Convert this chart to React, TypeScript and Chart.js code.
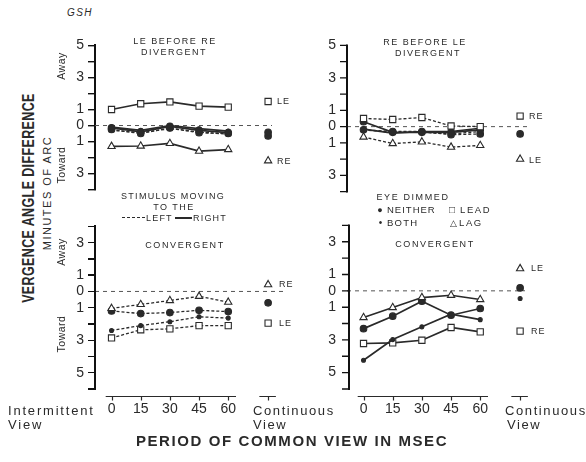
import React, { useEffect, useRef, useState } from 'react';
import { Chart, registerables } from 'chart.js';

Chart.register(...registerables);

const INK = '#2a2a2a';
const FONT = "'Liberation Sans', Arial, sans-serif";

// ---- shared x values ----
const PERIODS = [0, 15, 30, 45, 60];
const X_TICKS = [0, 15, 30, 45, 60];
const CONT_X = 80.5;
const X_MIN = -8.5;
const X_MAX = 91.5;

// ---- top-left: LE before RE, divergent ----
const tlLead = [1.0, 1.36, 1.47, 1.21, 1.15];
const tlLag = [-1.3, -1.28, -1.12, -1.6, -1.5];
const tlNeitherRight = [-0.15, -0.4, -0.05, -0.3, -0.45];
const tlNeitherLeft = [-0.25, -0.5, -0.15, -0.45, -0.5];
const tlBothRight = [-0.1, -0.3, 0.0, -0.2, -0.35];
const tlBothLeft = [-0.3, -0.45, -0.2, -0.4, -0.55];
const tlCont = { lead: 1.5, lag: -2.2, neither: -0.42, both: -0.65 };

// ---- top-right: RE before LE, divergent ----
const trLead = [0.5, 0.44, 0.56, 0.04, 0.0];
const trLag = [-0.64, -1.04, -0.94, -1.26, -1.16];
const trNeitherRight = [0.3, -0.35, -0.35, -0.35, -0.2];
const trNeitherLeft = [-0.2, -0.3, -0.3, -0.5, -0.45];
const trBothRight = [-0.15, -0.4, -0.3, -0.3, -0.1];
const trBothLeft = [-0.2, -0.35, -0.35, -0.45, -0.3];
const trCont = { lead: 0.65, lag: -2.0, neither: -0.45 };

// ---- bottom-left: stimulus moving, convergent ----
const blLag = [-1.04, -0.8, -0.56, -0.3, -0.66];
const blNeither = [-1.2, -1.36, -1.3, -1.16, -1.24];
const blBoth = [-2.4, -2.1, -1.86, -1.56, -1.64];
const blLead = [-2.86, -2.36, -2.3, -2.1, -2.1];
const blCont = { lag: 0.42, neither: -0.7, lead: -1.95 };

// ---- bottom-right: eye dimmed, convergent ----
const brLag = [-1.63, -1.02, -0.41, -0.27, -0.53];
const brNeither = [-2.31, -1.55, -0.63, -1.49, -1.08];
const brBoth = [-4.24, -2.98, -2.2, -1.43, -1.76];
const brLead = [-3.22, -3.18, -3.02, -2.24, -2.51];
const brCont = { lag: 1.36, neither: 0.18, both: -0.47, lead: -2.46 };

type Kind = 'lead' | 'lag' | 'neither' | 'both';
const MARK: Record<Kind, { style: string; r: number; fill: string }> = {
  lead: { style: 'rect', r: 4.4, fill: '#ffffff' },
  lag: { style: 'triangle', r: 4.2, fill: '#ffffff' },
  neither: { style: 'circle', r: 3.3, fill: INK },
  both: { style: 'circle', r: 2.0, fill: INK },
};

function lineDs(values: number[], kind: Kind, dashed: boolean) {
  const m = MARK[kind];
  return {
    data: PERIODS.map((x, i) => ({ x, y: values[i] })),
    borderColor: INK,
    borderWidth: dashed ? 1.3 : 1.7,
    borderDash: dashed ? [3, 2] : [],
    pointStyle: m.style,
    pointRadius: m.r,
    pointBackgroundColor: m.fill,
    pointBorderColor: INK,
    pointBorderWidth: 1.1,
    tension: 0,
    fill: false,
  };
}

function contDs(value: number, kind: Kind) {
  const m = MARK[kind];
  return {
    data: [{ x: CONT_X, y: value }],
    showLine: false,
    pointStyle: m.style,
    pointRadius: m.r,
    pointBackgroundColor: m.fill,
    pointBorderColor: INK,
    pointBorderWidth: 1.1,
  };
}

function zeroDs(end: number) {
  return {
    data: [{ x: X_MIN, y: 0 }, { x: end, y: 0 }],
    borderColor: '#555555',
    borderWidth: 1,
    borderDash: [4, 4],
    pointRadius: 0,
    fill: false,
  };
}

// Axis plugin: y axis line + ticks (at an optional shift), and the broken x axis
// of the bottom panels, positioned through the chart's own scales.
const axesPlugin = {
  id: 'axesPlugin',
  afterDraw(chart: any, _args: any, opts: any) {
    const { ctx, chartArea } = chart;
    const ys = chart.scales.y;
    const xs = chart.scales.x;
    ctx.save();
    ctx.setLineDash([]);
    ctx.strokeStyle = '#111111';
    if (opts && opts.yLine) {
      const ax = chartArea.left + (opts.shift || 0);
      ctx.lineWidth = 2;
      ctx.beginPath();
      ctx.moveTo(ax, ys.getPixelForValue(ys.max) - 1);
      ctx.lineTo(ax, ys.getPixelForValue(ys.min) + 1);
      ctx.stroke();
      ctx.lineWidth = 1.4;
      ctx.beginPath();
      for (const t of ys.ticks) {
        const py = ys.getPixelForValue(t.value);
        ctx.moveTo(ax - 7, py);
        ctx.lineTo(ax, py);
      }
      ctx.stroke();
    }
    if (opts && opts.segments) {
      const y = Math.round(chartArea.bottom + opts.offset) + 0.5;
      ctx.strokeStyle = INK;
      ctx.lineWidth = 1.2;
      ctx.beginPath();
      for (const [a, b] of opts.segments) {
        ctx.moveTo(xs.getPixelForValue(a), y);
        ctx.lineTo(xs.getPixelForValue(b), y);
      }
      for (const t of opts.ticks) {
        const px = Math.round(xs.getPixelForValue(t)) + 0.5;
        ctx.moveTo(px, y);
        ctx.lineTo(px, y + opts.tickLen);
      }
      ctx.stroke();
    }
    ctx.restore();
  },
};

type PanelSpec = {
  left: number;
  top: number;
  width: number;
  height: number;
  yMin: number;
  yMax: number;
  showX: boolean;
  native: boolean;
  pluginShift: number | null;
  html: boolean;
  datasets: any[];
};

type AxisGeom = { x: number; top: number; bottom: number; ticks: number[] };

function Panel({ spec }: { spec: PanelSpec }) {
  const ref = useRef<HTMLCanvasElement | null>(null);
  const [axis, setAxis] = useState<AxisGeom | null>(null);
  useEffect(() => {
    if (!ref.current) return;
    const xOpts: any = spec.showX
      ? { segments: [[-3, 64], [76, 84.5]], ticks: [...X_TICKS, CONT_X], offset: 7, tickLen: 4 }
      : {};
    if (spec.pluginShift !== null) {
      xOpts.yLine = true;
      xOpts.shift = spec.pluginShift;
    }
    const chart = new Chart(ref.current, {
      type: 'line',
      data: { datasets: spec.datasets },
      options: {
        animation: false,
        responsive: false,
        maintainAspectRatio: false,
        devicePixelRatio: 1,
        events: [],
        layout: { padding: { top: 12, bottom: spec.showX ? 0 : 12, left: 0, right: 0 } },
        plugins: {
          legend: { display: false },
          tooltip: { enabled: false },
          title: { display: false },
          axesPlugin: xOpts,
        } as any,
        scales: {
          x: {
            type: 'linear',
            min: X_MIN,
            max: X_MAX,
            display: spec.showX,
            grid: { display: false, drawTicks: false },
            border: { display: false },
            afterBuildTicks: (s: any) => {
              s.ticks = X_TICKS.map((v) => ({ value: v }));
            },
            afterFit: (s: any) => {
              s.height = spec.showX ? 30 : 0;
            },
            ticks: {
              color: INK,
              font: { family: FONT, size: 14 },
              padding: 12,
              autoSkip: false,
              maxRotation: 0,
              callback: (v: any) => String(v),
            },
          },
          y: {
            type: 'linear',
            min: spec.yMin,
            max: spec.yMax,
            afterFit: (s: any) => {
              s.width = 30;
            },
            grid: spec.native
              ? { display: true, drawOnChartArea: false, drawTicks: true, tickLength: 7, color: '#111111', lineWidth: 1.4 }
              : { display: false, drawTicks: true, tickLength: 7 },
            border: spec.native ? { display: true, color: '#111111', width: 2 } : { display: false },
            ticks: {
              stepSize: 1,
              autoSkip: false,
              color: INK,
              font: { family: FONT, size: 14 },
              padding: 4,
              callback: (v: any) => {
                const n = Math.round(Number(v));
                return n === 0 || Math.abs(n) % 2 === 1 ? String(Math.abs(n)) : '';
              },
            },
          },
        },
      } as any,
      plugins: [axesPlugin as any],
    });
    const ys: any = chart.scales.y;
    const ca: any = chart.chartArea;
    if (spec.html && ys && ca) {
      setAxis({
        x: ca.left,
        top: ys.getPixelForValue(ys.max),
        bottom: ys.getPixelForValue(ys.min),
        ticks: (ys.ticks || []).map((t: any) => ys.getPixelForValue(t.value)),
      });
    }
    return () => chart.destroy();
  }, []);
  return (
    <>
      <canvas
        ref={ref}
        width={spec.width}
        height={spec.height}
        style={{ position: 'absolute', left: spec.left, top: spec.top, width: spec.width, height: spec.height, display: 'block' }}
      />
      {axis && (
        <div style={{ position: 'absolute', left: spec.left, top: spec.top, width: 0, height: 0, zIndex: 5 }}>
          <div
            style={{
              position: 'absolute',
              left: axis.x - 1,
              top: axis.top - 1,
              width: 2,
              height: axis.bottom - axis.top + 2,
              background: '#111111',
            }}
          />
          {axis.ticks.map((py, i) => (
            <div
              key={i}
              style={{ position: 'absolute', left: axis.x - 7, top: py - 0.7, width: 7, height: 1.4, background: '#111111' }}
            />
          ))}
        </div>
      )}
    </>
  );
}

const PANELS: PanelSpec[] = [
  {
    left: 65, top: 33, width: 230, height: 169, yMin: -4, yMax: 5, showX: false,
    native: true, pluginShift: null, html: false,
    datasets: [
      lineDs(tlLead, 'lead', false),
      lineDs(tlLag, 'lag', false),
      lineDs(tlNeitherRight, 'neither', false),
      lineDs(tlNeitherLeft, 'neither', true),
      lineDs(tlBothRight, 'both', false),
      lineDs(tlBothLeft, 'both', true),
      contDs(tlCont.lead, 'lead'),
      contDs(tlCont.lag, 'lag'),
      contDs(tlCont.neither, 'neither'),
      contDs(tlCont.both, 'neither'),
      zeroDs(82.5),
    ],
  },
  {
    left: 317, top: 33, width: 230, height: 171, yMin: -4, yMax: 5, showX: false,
    native: false, pluginShift: 0, html: false,
    datasets: [
      lineDs(trLead, 'lead', true),
      lineDs(trLag, 'lag', true),
      lineDs(trNeitherRight, 'neither', false),
      lineDs(trNeitherLeft, 'neither', true),
      lineDs(trBothRight, 'both', false),
      lineDs(trBothLeft, 'both', true),
      contDs(trCont.lead, 'lead'),
      contDs(trCont.lag, 'lag'),
      contDs(trCont.neither, 'neither'),
      zeroDs(84.5),
    ],
  },
  {
    left: 65, top: 214, width: 230, height: 205, yMin: -6, yMax: 4, showX: true,
    native: false, pluginShift: null, html: true,
    datasets: [
      lineDs(blLag, 'lag', true),
      lineDs(blNeither, 'neither', true),
      lineDs(blBoth, 'both', true),
      lineDs(blLead, 'lead', true),
      contDs(blCont.lag, 'lag'),
      contDs(blCont.neither, 'neither'),
      contDs(blCont.lead, 'lead'),
      zeroDs(89),
    ],
  },
  {
    left: 317, top: 213, width: 230, height: 206, yMin: -6, yMax: 4, showX: true,
    native: false, pluginShift: 2, html: false,
    datasets: [
      lineDs(brLag, 'lag', false),
      lineDs(brNeither, 'neither', false),
      lineDs(brBoth, 'both', false),
      lineDs(brLead, 'lead', false),
      contDs(brCont.lag, 'lag'),
      contDs(brCont.neither, 'neither'),
      contDs(brCont.both, 'both'),
      contDs(brCont.lead, 'lead'),
      zeroDs(83),
    ],
  },
];

type Lbl = { t: string; x: number; y: number; s?: number; b?: boolean; ls?: number; r?: boolean; a?: 'c' | 'l'; it?: boolean; sx?: number };

function Txt({ t, x, y, s = 9, b = false, ls = 1, r = false, a = 'c', it = false, sx = 1 }: Lbl) {
  const tr = a === 'c' ? 'translate(-50%,-50%)' : 'translate(0,-50%)';
  return (
    <div
      style={{
        position: 'absolute',
        left: x,
        top: y,
        transform: `${tr}${r ? ' rotate(-90deg)' : ''}${sx !== 1 ? ` scaleX(${sx})` : ''}`,
        fontSize: s,
        fontWeight: b ? 700 : 400,
        letterSpacing: ls,
        fontStyle: it ? 'italic' : 'normal',
        whiteSpace: 'nowrap',
        lineHeight: 1,
        color: INK,
        fontFamily: FONT,
      }}
    >
      {t}
    </div>
  );
}

const LABELS: Lbl[] = [
  { t: 'GSH', x: 80, y: 13, s: 10, it: true, ls: 1.5 },
  { t: 'VERGENCE ANGLE DIFFERENCE', x: 29, y: 198, s: 16, b: true, r: true, sx: 0.78, ls: 0.5 },
  { t: 'MINUTES OF ARC', x: 47, y: 193, s: 11, r: true, ls: 1.5 },
  { t: 'Away', x: 61, y: 66, s: 10.5, r: true, ls: 0.5 },
  { t: 'Toward', x: 61, y: 165, s: 10.5, r: true, ls: 0.5 },
  { t: 'Away', x: 61, y: 252, s: 10.5, r: true, ls: 0.5 },
  { t: 'Toward', x: 61, y: 334, s: 10.5, r: true, ls: 0.5 },
  { t: 'LE BEFORE RE', x: 175, y: 41, ls: 1.5 },
  { t: 'DIVERGENT', x: 174, y: 52, ls: 1.5 },
  { t: 'RE BEFORE LE', x: 425, y: 42, ls: 1.5 },
  { t: 'DIVERGENT', x: 428, y: 53, ls: 1.5 },
  { t: 'STIMULUS MOVING', x: 173, y: 196, ls: 1.3 },
  { t: 'TO THE', x: 174, y: 207, ls: 1.5 },
  { t: 'LEFT', x: 146, y: 218, a: 'l', ls: 1.2 },
  { t: 'RIGHT', x: 193, y: 218, a: 'l', ls: 1.2 },
  { t: 'CONVERGENT', x: 185, y: 245, ls: 1.6 },
  { t: 'EYE DIMMED', x: 413, y: 197, ls: 1.6 },
  { t: '●', x: 380, y: 209.5, s: 9, ls: 0 },
  { t: 'NEITHER', x: 387, y: 209.5, a: 'l', s: 9.5, ls: 1 },
  { t: '□', x: 452, y: 209.5, s: 10, ls: 0 },
  { t: 'LEAD', x: 460, y: 209.5, a: 'l', s: 9.5, ls: 1.6 },
  { t: '•', x: 380.5, y: 222.5, s: 10, ls: 0 },
  { t: 'BOTH', x: 387, y: 222.5, a: 'l', s: 9.5, ls: 1.2 },
  { t: '△', x: 453, y: 222.5, s: 9, ls: 0 },
  { t: 'LAG', x: 459, y: 222.5, a: 'l', s: 9.5, ls: 1.6 },
  { t: 'CONVERGENT', x: 435, y: 244, ls: 1.6 },
  { t: 'LE', x: 277, y: 101, a: 'l', ls: 1 },
  { t: 'RE', x: 277, y: 161, a: 'l', ls: 1 },
  { t: 'RE', x: 529, y: 116, a: 'l', ls: 1 },
  { t: 'LE', x: 529, y: 160, a: 'l', ls: 1 },
  { t: 'RE', x: 279, y: 284, a: 'l', ls: 1 },
  { t: 'LE', x: 279, y: 323, a: 'l', ls: 1 },
  { t: 'LE', x: 531, y: 268, a: 'l', ls: 1 },
  { t: 'RE', x: 531, y: 331, a: 'l', ls: 1 },
  { t: 'Intermittent', x: 8, y: 410, a: 'l', s: 13, ls: 1.8 },
  { t: 'View', x: 8, y: 424, a: 'l', s: 13, ls: 1.8 },
  { t: 'Continuous', x: 253, y: 410, a: 'l', s: 13, ls: 1.6 },
  { t: 'View', x: 253, y: 424, a: 'l', s: 13, ls: 1.6 },
  { t: 'Continuous', x: 505, y: 410, a: 'l', s: 13, ls: 1.6 },
  { t: 'View', x: 507, y: 424, a: 'l', s: 13, ls: 1.6 },
  { t: 'PERIOD OF COMMON VIEW IN MSEC', x: 292, y: 440, s: 15, b: true, ls: 1.6 },
];

export default function App() {
  return (
    <div
      style={{
        position: 'fixed',
        left: 0,
        top: 0,
        width: 586,
        height: 462,
        background: '#ffffff',
        overflow: 'hidden',
        fontFamily: FONT,
      }}
    >
      {PANELS.map((p, i) => (
        <Panel key={i} spec={p} />
      ))}
      <div style={{ position: 'absolute', left: 122, top: 217, width: 23, borderTop: `1.5px dashed ${INK}` }} />
      <div style={{ position: 'absolute', left: 175, top: 217, width: 17, borderTop: `2px solid ${INK}` }} />
      {LABELS.map((l, i) => (
        <Txt key={i} {...l} />
      ))}
    </div>
  );
}
